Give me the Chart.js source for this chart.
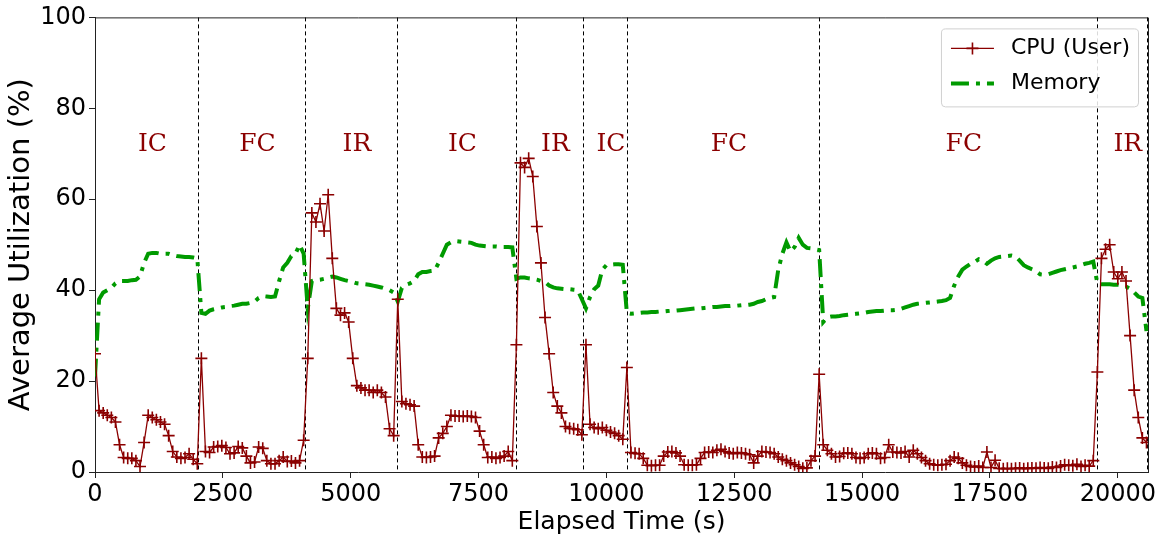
<!DOCTYPE html>
<html lang="en">
<head>
<meta charset="UTF-8">
<title>Average Utilization</title>
<script src="https://cdn.jsdelivr.net/npm/chart.js"></script>
<style>
  body { margin: 0; background: #ffffff; }
  #grafica { display: block; }
</style>
</head>
<body>
<canvas id="grafica" width="1159" height="541"></canvas>
<script>
// one sample every 80 s, starting at t = 0
const SAMPLE_STEP = 80;

const cpuUser = [
  26, 13.5, 13, 12.5, 12, 11, 6, 3.2, 3, 3,
  2.5, 1.2, 6.5, 12.5, 12, 11.5, 11, 10.5, 8, 4.5,
  3.3, 3, 3.2, 4, 2.8, 1.8, 25, 4.5, 4.3, 5.5,
  5.6, 5.8, 5.4, 4, 4.2, 5.6, 5.3, 3.5, 2, 2.2,
  5.5, 5.2, 2.5, 1.8, 1.8, 2.5, 3.3, 2.3, 2.4, 2,
  2.5, 7, 25, 57, 55, 59, 53, 61, 47, 36,
  34.5, 35, 33, 25, 19, 18.5, 18, 18, 17.5, 18,
  17.5, 16.5, 9.5, 8, 38, 15.5, 15, 14.8, 14.5, 6,
  3.3, 3.2, 3.3, 3.5, 7.5, 8.5, 10, 12.5, 12.3, 12.3,
  12.2, 12.3, 12.2, 12, 9, 6, 3.2, 3.3, 3, 3.2,
  3.5, 4.5, 2.5, 28, 68, 67, 69, 65, 54, 46,
  34, 26, 17.5, 14.5, 13, 10, 9.6, 9.5, 9.3, 8.2,
  28, 10.5, 9.8, 9.5, 9.8, 9.2, 8.8, 8.5, 8, 7.2,
  23, 4.3, 4.1, 4, 3, 1.5, 1.4, 1.5, 1.5, 3.5,
  4.4, 4.5, 4.2, 3.5, 1.6, 1.5, 1.5, 1.6, 3, 4.3,
  4.4, 4.3, 4.8, 5, 4.5, 4.2, 4, 4.3, 4.2, 4,
  3.8, 2, 3.5, 4.5, 4.4, 4.3, 4, 3.3, 2.8, 2.5,
  2, 1.6, 1.2, 0.8, 0.9, 2.5, 3.5, 21.5, 6, 4.8,
  4, 3.3, 3.4, 4.1, 4.2, 4, 3.2, 3, 3.2, 4,
  4.2, 4, 3, 3.2, 6, 4.4, 4.3, 4.2, 4.5, 3.3,
  4.8, 4, 3.2, 2.5, 1.8, 1.6, 1.5, 1.6, 1.7, 2.5,
  3.3, 3, 2, 1.5, 1.2, 1.1, 1.3, 1, 4.4, 1,
  2.6, 0.8, 0.7, 0.8, 0.7, 0.8, 0.9, 0.7, 0.8, 0.9,
  0.8, 1, 0.9, 0.8, 1.1, 1, 1.3, 1.6, 1.5, 1.4,
  1.7, 1.2, 1.5, 1.3, 2.5, 22, 47, 49, 50, 44,
  42.5, 44, 42, 30, 18, 12, 7.5, 6.5
];

const memory = [
  21, 38, 39.5, 40, 40.5, 41.5, 42, 42, 42, 42.2,
  42.3, 43, 46, 48, 48.2, 48.2, 48, 48, 48, 47.7,
  47.5, 47.4, 47.3, 47.3, 47.2, 47, 35, 34.8, 35.5, 35.8,
  36, 36.2, 36.3, 36.5, 36.6, 36.8, 37, 37, 37.2, 37.5,
  38.3, 38.7, 38.6, 38.5, 38.6, 42, 45, 46, 47.5, 48,
  50, 48, 36, 42, 42.2, 42.3, 42.5, 42.8, 43, 42.8,
  42.5, 42.2, 42, 41.8, 41.5, 41.4, 41.3, 41.2, 41, 40.8,
  40.6, 40.3, 40, 39.5, 37.5, 40.5, 41.2, 41.5, 42, 43.5,
  44, 44, 44.2, 44.3, 46, 48, 50, 50.5, 50.8, 50.7,
  50.6, 50.5, 50.4, 50, 49.8, 49.7, 49.6, 49.6, 49.6, 49.5,
  49.5, 49.5, 49.4, 42.5, 42.8, 42.8, 42.6, 42.5, 42.3, 42,
  41.8, 41, 40.6, 40.4, 40.3, 40.2, 40.2, 40.1, 40, 38,
  36, 38.5, 40.2, 41, 44.5, 45.5, 45.6, 45.7, 45.7, 45.6,
  35, 34.8, 34.9, 35, 35.1, 35.1, 35.2, 35.2, 35.3, 35.3,
  35.4, 35.5, 35.5, 35.6, 35.7, 35.8, 35.9, 36, 36, 36.1,
  36.2, 36.3, 36.3, 36.4, 36.5, 36.5, 36.6, 36.6, 36.7, 36.7,
  36.8, 37, 37.4, 37.6, 38, 38.3, 38.5, 44.5, 48, 50.5,
  48.5, 49.5, 51.5, 50, 49.3, 49.2, 49, 48.8, 33, 34,
  34.2, 34.2, 34.3, 34.5, 34.6, 34.7, 34.8, 34.9, 35, 35.2,
  35.3, 35.4, 35.4, 35.5, 35.6, 35.6, 35.7, 35.9, 36.2, 36.5,
  36.8, 37, 37.1, 37.2, 37.3, 37.4, 37.5, 37.6, 37.8, 38.3,
  41, 43, 44.5, 45.2, 45.8, 46.2, 46.8, 46.5, 45.8, 46.5,
  47, 47.3, 47.4, 47.5, 47.6, 47.4, 46.5, 45.5, 45, 44.6,
  44.2, 43.5, 43.4, 43.5, 43.8, 44.1, 44.4, 44.6, 44.8, 45,
  45.2, 45.5, 45.8, 46, 46.3, 41.5, 41.3, 41.3, 41.3, 41.2,
  41.2, 41.1, 40.8, 40.3, 39.5, 38.6, 38.3, 31
];

// phase boundaries (s) and the phase names between them
const phaseBounds = [0, 2014, 4106, 5904, 8231, 9541, 10401, 14154, 19589, 20567];
const phaseNames = ['IC', 'FC', 'IR', 'IC', 'IR', 'IC', 'FC', 'FC', 'IR'];
const phaseLabelLevel = 72;

const xTicks = [0, 2500, 5000, 7500, 10000, 12500, 15000, 17500, 20000];
const yTicks = [0, 20, 40, 60, 80, 100];

const CPU_COLOR = '#8b0000';
const MEM_COLOR = '#009a00';
const MEM_DASH = [18, 7, 4, 7];

function toPoints(values) {
    return values.map((v, i) => ({ x: i * SAMPLE_STEP, y: v }));
}

const overlay = {
    id: 'overlay',
    beforeDatasetsDraw(chart) {
        const { ctx, chartArea: a, scales: { x, y } } = chart;
        ctx.save();
        // dashed phase separators
        ctx.strokeStyle = '#000';
        ctx.lineWidth = 1;
        ctx.setLineDash([4, 3]);
        phaseBounds.slice(1).forEach(b => {
            const px = Math.round(x.getPixelForValue(b)) + 0.5;
            ctx.beginPath();
            ctx.moveTo(px, a.top);
            ctx.lineTo(px, a.bottom);
            ctx.stroke();
        });
        ctx.setLineDash([]);
        // phase names
        ctx.fillStyle = CPU_COLOR;
        ctx.font = '25px "DejaVu Serif"';
        ctx.textAlign = 'center';
        ctx.textBaseline = 'middle';
        phaseNames.forEach((name, i) => {
            const mid = (phaseBounds[i] + phaseBounds[i + 1]) / 2;
            ctx.fillText(name, x.getPixelForValue(mid) + 6, y.getPixelForValue(phaseLabelLevel));
        });
        ctx.restore();
    },
    afterDraw(chart) {
        const { ctx, chartArea: a } = chart;
        ctx.save();
        // top and right spines
        ctx.strokeStyle = '#222';
        ctx.lineWidth = 1;
        ctx.beginPath();
        ctx.moveTo(a.left, a.top + 0.5);
        ctx.lineTo(a.right + 0.5, a.top + 0.5);
        ctx.lineTo(a.right + 0.5, a.bottom);
        ctx.stroke();

        // legend box, upper right
        ctx.font = '22px "DejaVu Sans"';
        const ds = chart.data.datasets;
        const textW = Math.max(...ds.map(d => ctx.measureText(d.label).width));
        const boxW = 10 + 43 + 17 + textW + 8;
        const boxH = 78;
        const lx = a.right - 10 - boxW;
        const ly = a.top + 11;
        ctx.fillStyle = 'rgba(255,255,255,0.85)';
        ctx.strokeStyle = '#d0d0d0';
        ctx.beginPath();
        ctx.roundRect(lx + 0.5, ly + 0.5, boxW, boxH, 4);
        ctx.fill();
        ctx.stroke();

        ds.forEach((d, i) => {
            const cy = ly + 20 + i * 35;
            ctx.strokeStyle = d.borderColor;
            ctx.lineWidth = d.borderWidth;
            ctx.setLineDash(d.borderDash || []);
            ctx.beginPath();
            ctx.moveTo(lx + 10, cy);
            ctx.lineTo(lx + 53, cy);
            ctx.stroke();
            ctx.setLineDash([]);
            if (d.pointRadius > 0) {
                ctx.lineWidth = d.pointBorderWidth;
                ctx.beginPath();
                ctx.moveTo(lx + 31.5 - d.pointRadius, cy);
                ctx.lineTo(lx + 31.5 + d.pointRadius, cy);
                ctx.moveTo(lx + 31.5, cy - d.pointRadius);
                ctx.lineTo(lx + 31.5, cy + d.pointRadius);
                ctx.stroke();
            }
            ctx.fillStyle = '#000';
            ctx.textAlign = 'left';
            ctx.textBaseline = 'middle';
            ctx.fillText(d.label, lx + 70, cy);
        });
        ctx.restore();
    }
};

const tickFont = { family: 'DejaVu Sans', size: 24 };

new Chart(document.getElementById('grafica').getContext('2d'), {
    type: 'line',
    data: {
        datasets: [
            {
                label: 'CPU (User)',
                data: toPoints(cpuUser),
                borderColor: CPU_COLOR,
                borderWidth: 1.3,
                pointStyle: 'cross',
                pointRadius: 6,
                pointBorderWidth: 1.6,
                pointBorderColor: CPU_COLOR,
                pointBackgroundColor: CPU_COLOR,
                tension: 0
            },
            {
                label: 'Memory',
                data: toPoints(memory),
                borderColor: MEM_COLOR,
                borderWidth: 4,
                borderDash: MEM_DASH,
                pointRadius: 0,
                tension: 0
            }
        ]
    },
    options: {
        responsive: false,
        animation: false,
        devicePixelRatio: 1,
        layout: { padding: { top: 15, right: 11, left: 0, bottom: 0 } },
        plugins: {
            legend: { display: false },
            tooltip: { enabled: false }
        },
        scales: {
            x: {
                type: 'linear',
                min: 0,
                max: 20590,
                afterFit: s => { s.height = 69; },
                afterBuildTicks: s => { s.ticks = xTicks.map(v => ({ value: v })); },
                ticks: {
                    font: tickFont,
                    color: '#000',
                    padding: 2,
                    maxRotation: 0,
                    autoSkip: false,
                    callback: v => String(v)
                },
                grid: { drawOnChartArea: false, drawTicks: true, tickLength: 6, color: '#222' },
                border: { display: true, color: '#222', width: 1 },
                title: {
                    display: true,
                    text: 'Elapsed Time (s)',
                    font: { family: 'DejaVu Sans', size: 25 },
                    color: '#000',
                    padding: { top: 0, bottom: 4 }
                }
            },
            y: {
                min: 0,
                max: 100,
                afterFit: s => { s.width = 95; },
                afterBuildTicks: s => { s.ticks = yTicks.map(v => ({ value: v })); },
                ticks: { font: tickFont, color: '#000', padding: 3 },
                grid: { drawOnChartArea: false, drawTicks: true, tickLength: 6, color: '#222' },
                border: { display: true, color: '#222', width: 1 },
                title: {
                    display: true,
                    text: 'Average Utilization (%)',
                    font: { family: 'DejaVu Sans', size: 29 },
                    color: '#000',
                    padding: { top: 4, bottom: 0 }
                }
            }
        }
    },
    plugins: [overlay]
});
</script>
</body>
</html>
